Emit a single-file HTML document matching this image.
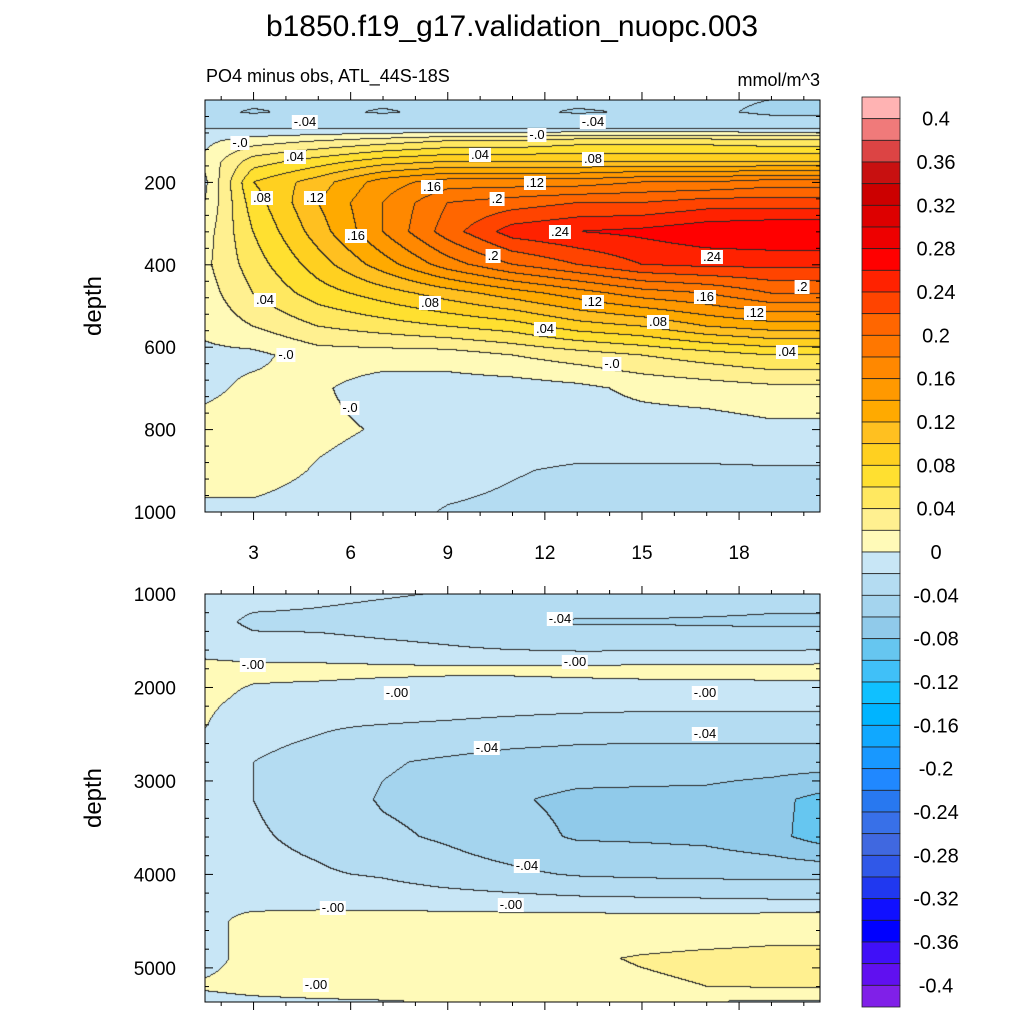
<!DOCTYPE html>
<html><head><meta charset="utf-8"><style>
body{margin:0;background:#fff;width:1024px;height:1024px;position:relative;overflow:hidden;font-family:"Liberation Sans",sans-serif}
canvas{position:absolute}
svg{position:absolute;left:0;top:0}
.lbl{position:absolute;background:#fff;font-size:13px;padding:0 2px;line-height:14px;transform:translate(-50%,-50%)}
</style></head><body>
<canvas id="c1" style="left:205px;top:100px" width="615" height="412"></canvas>
<canvas id="c2" style="left:205px;top:594px" width="615" height="408"></canvas>
<svg id="ov" width="1024" height="1024"></svg>
<div id="labels"></div>
<script>
const xCols=[1.5,3,5,7,9,11,13,15,17,19,20.5];
const topDepths=[0,30,70,100,150,200,250,320,400,470,550,620,700,800,900,1000];
const topVals=[
[-0.03,-0.035,-0.035,-0.035,-0.035,-0.035,-0.035,-0.035,-0.035,-0.04,-0.04],
[-0.035,-0.042,-0.035,-0.042,-0.035,-0.035,-0.042,-0.038,-0.035,-0.045,-0.045],
[-0.02,-0.02,-0.02,-0.02,-0.02,-0.02,-0.02,-0.02,-0.02,-0.02,-0.02],
[-0.005,0.01,0.02,0.03,0.04,0.04,0.05,0.05,0.05,0.045,0.045],
[0.005,0.05,0.07,0.09,0.1,0.1,0.1,0.1,0.1,0.1,0.1],
[-0.005,0.08,0.11,0.15,0.17,0.17,0.17,0.18,0.18,0.19,0.19],
[0.0,0.07,0.12,0.16,0.2,0.21,0.22,0.22,0.23,0.23,0.23],
[0.01,0.06,0.11,0.16,0.21,0.25,0.26,0.265,0.275,0.28,0.28],
[0.015,0.05,0.09,0.13,0.17,0.2,0.22,0.24,0.245,0.245,0.245],
[0.01,0.04,0.07,0.09,0.11,0.13,0.15,0.17,0.18,0.2,0.2],
[0.005,0.02,0.04,0.05,0.06,0.07,0.09,0.1,0.12,0.13,0.13],
[-0.005,-0.005,0.01,0.01,0.01,0.02,0.03,0.04,0.05,0.06,0.06],
[-0.005,0.005,0.003,-0.01,-0.01,-0.01,-0.005,0.005,0.01,0.015,0.015],
[0.008,0.01,0.005,-0.002,-0.01,-0.01,-0.01,-0.01,-0.01,-0.005,-0.005],
[0.01,0.01,-0.002,-0.01,-0.015,-0.019,-0.022,-0.022,-0.022,-0.022,-0.022],
[-0.005,-0.005,-0.01,-0.015,-0.021,-0.023,-0.025,-0.025,-0.025,-0.025,-0.025]];
const botDepths=[1000,1300,1600,1800,2100,2400,2800,3200,3600,4000,4300,4500,4900,5200,5365];
const botVals=[
[-0.01,-0.01,-0.015,-0.018,-0.021,-0.022,-0.022,-0.022,-0.025,-0.03,-0.03],
[-0.01,-0.025,-0.025,-0.028,-0.03,-0.038,-0.042,-0.042,-0.043,-0.044,-0.044],
[-0.005,-0.01,-0.012,-0.015,-0.018,-0.02,-0.022,-0.022,-0.022,-0.022,-0.02],
[0.005,0.005,0.005,0.004,0.003,0.003,0.004,0.005,0.005,0.006,0.006],
[0.005,-0.004,-0.006,-0.008,-0.008,-0.008,-0.008,-0.008,-0.008,-0.008,-0.008],
[0.001,-0.015,-0.018,-0.02,-0.022,-0.025,-0.028,-0.03,-0.03,-0.03,-0.03],
[-0.01,-0.02,-0.025,-0.038,-0.043,-0.048,-0.05,-0.05,-0.05,-0.05,-0.05],
[-0.015,-0.02,-0.028,-0.042,-0.047,-0.058,-0.064,-0.065,-0.066,-0.074,-0.086],
[-0.012,-0.018,-0.024,-0.036,-0.043,-0.053,-0.062,-0.063,-0.065,-0.074,-0.088],
[-0.01,-0.015,-0.018,-0.022,-0.03,-0.036,-0.042,-0.044,-0.045,-0.046,-0.046],
[-0.002,-0.005,-0.006,-0.008,-0.01,-0.012,-0.014,-0.015,-0.016,-0.017,-0.017],
[-0.005,0.005,0.008,0.01,0.01,0.01,0.01,0.01,0.01,0.012,0.012],
[-0.005,0.005,0.01,0.012,0.014,0.016,0.018,0.021,0.023,0.024,0.024],
[0.002,0.005,0.008,0.01,0.012,0.014,0.016,0.018,0.02,0.022,0.022],
[-0.005,-0.003,-0.002,-0.001,0.001,0.002,0.002,0.001,0.0,-0.002,-0.002]];
const posColors=["#fffab8","#fff090","#ffe860","#ffe030","#ffd020","#ffc020","#ffaa00","#ff9900","#ff8800","#ff7700","#ff6600","#ff4400","#ff2200","#ff0000","#ee0000","#dd0000","#cc0000","#c81010","#dc4444","#f07a7a","#ffb3b3"];
const negColors=["#c8e6f6","#b4dcf2","#a4d4ee","#90caea","#66c6f0","#40c0f8","#10c0ff","#00b4ff","#10a8ff","#1898ff","#2088ff","#2878f0","#3870e8","#4068e0","#3058e8","#2038f0","#1010ff","#0000ff","#4010f8","#6010f0","#8020e8"];
const cbLabels=["0.4","0.36","0.32","0.28","0.24","0.2","0.16","0.12","0.08","0.04","0","-0.04","-0.08","-0.12","-0.16","-0.2","-0.24","-0.28","-0.32","-0.36","-0.4"];
const xTicks=[3,6,9,12,15,18];
const topYTicks=[200,400,600,800,1000];
const botYTicks=[1000,2000,3000,4000,5000];

function hex(h){return [parseInt(h.substr(1,2),16),parseInt(h.substr(3,2),16),parseInt(h.substr(5,2),16)];}
const posRGB=posColors.map(hex),negRGB=negColors.map(hex);
function level(v){if(v>0)return Math.min(20,Math.ceil(v/0.02-1e-9)-1)+100;return -(Math.min(20,Math.ceil(-v/0.02-1e-9)-1))-1;}
function colorOf(l){return l>=100?posRGB[l-100]:negRGB[-l-1];}
function find(arr,v){for(let i=0;i<arr.length-1;i++){if(v<=arr[i+1])return i;}return arr.length-2;}
function interp(xs,ys,vals,x,y){
  const i=find(xs,x),j=find(ys,y);
  let tx=(x-xs[i])/(xs[i+1]-xs[i]),ty=(y-ys[j])/(ys[j+1]-ys[j]);
  tx=Math.max(0,Math.min(1,tx));ty=Math.max(0,Math.min(1,ty));
  const a=vals[j][i],b=vals[j][i+1],c=vals[j+1][i],d=vals[j+1][i+1];
  return a*(1-tx)*(1-ty)+b*tx*(1-ty)+c*(1-tx)*ty+d*tx*ty;
}
function xScale(x){return 205+(x-1.5)*615/19;}
function drawField(id,ys,vals,d0,d1){
  const cv=document.getElementById(id),ctx=cv.getContext('2d');
  const W=cv.width,H=cv.height,img=ctx.createImageData(W,H);
  const L=new Int16Array(W*H);
  for(let py=0;py<H;py++){const dep=d0+(py+0.5)/H*(d1-d0);
    for(let px=0;px<W;px++){const xv=1.5+(px+0.5)/W*19;L[py*W+px]=level(interp(xCols,ys,vals,xv,dep));}}
  for(let py=0;py<H;py++)for(let px=0;px<W;px++){
    const k=py*W+px,l=L[k];let c=colorOf(l);
    if((px<W-1&&L[k+1]!==l)||(py<H-1&&L[k+W]!==l))c=[40,40,40];
    img.data[k*4]=c[0];img.data[k*4+1]=c[1];img.data[k*4+2]=c[2];img.data[k*4+3]=255;}
  ctx.putImageData(img,0,0);
}
drawField('c1',topDepths,topVals,0,1000);
drawField('c2',botDepths,botVals,1000,5365);

const ov=document.getElementById('ov');const NS='http://www.w3.org/2000/svg';
function el(t,a,txt){const e=document.createElementNS(NS,t);for(const k in a)e.setAttribute(k,a[k]);if(txt!==undefined)e.textContent=txt;ov.appendChild(e);return e;}
function tyTop(d){return 100+d*412/1000;}
function tyBot(d){return 594+(d-1000)*408/4365;}
let f=el('rect',{x:205,y:100,width:615,height:412,fill:'none',stroke:'#000','stroke-width':1});

f=el('rect',{x:205,y:594,width:615,height:408,fill:'none',stroke:'#000','stroke-width':1});

for(let x=2;x<=20;x++){const px=xScale(x),maj=x%3===0;
  for(const [y0,dir] of [[512,1],[100,-1],[1002,1],[594,-1]]){
    const t=el('line',{x1:px,x2:px,y1:y0,y2:y0+dir*(maj?8:4),stroke:'#000'});
    }}
for(const x of xTicks){const t=el('text',{x:xScale(x),y:559,'font-size':19,'text-anchor':'middle'},String(x));
  }
for(let d=0;d<=1000;d+=40){const py=tyTop(d),maj=d%200===0&&d>0;
  for(const [x0,dir] of [[205,1],[820,-1]]){const t=el('line',{x1:x0,x2:x0+dir*(maj?8:4),y1:py,y2:py,stroke:'#000'});
    }}
for(const d of topYTicks){const t=el('text',{x:176,y:tyTop(d)+7,'font-size':19,'text-anchor':'end'},String(d));
  }
for(let d=1000;d<=5365;d+=200){const py=tyBot(d),maj=d%1000===0;
  for(const [x0,dir] of [[205,1],[820,-1]]){const t=el('line',{x1:x0,x2:x0+dir*(maj?8:4),y1:py,y2:py,stroke:'#000'});
    }}
for(const d of botYTicks){const t=el('text',{x:176,y:tyBot(d)+7,'font-size':19,'text-anchor':'end'},String(d));
  }
let a=el('text',{x:0,y:0,'font-size':24,'text-anchor':'middle',transform:'translate(101,306) rotate(-90)'},'depth');

a=el('text',{x:0,y:0,'font-size':24,'text-anchor':'middle',transform:'translate(101,798) rotate(-90)'},'depth');

a=el('text',{x:512,y:36,'font-size':30,'text-anchor':'middle'},'b1850.f19_g17.validation_nuopc.003');

a=el('text',{x:206,y:82,'font-size':18},'PO4 minus obs, ATL_44S-18S');

a=el('text',{x:820,y:86,'font-size':18,'text-anchor':'end'},'mmol/m^3');

const bh=910/42;
for(let i=0;i<42;i++){const c=i<21?posColors[20-i]:negColors[i-21];
  const r=el('rect',{x:862,y:97+i*bh,width:38,height:bh,fill:c,stroke:'#222','stroke-width':0.8});
  }
for(let i=0;i<cbLabels.length;i++){const t=el('text',{x:936,y:97+(i*2+1)*bh+7,'font-size':20,'text-anchor':'middle'},cbLabels[i]);
  }
const labs=[[305,122,'-.04'],[240,143,'-.0'],[537,135,'-.0'],[593,122,'-.04'],[295,157,'.04'],[480,155,'.04'],[593,159,'.08'],[262,198,'.08'],[315,198,'.12'],[432,187,'.16'],[497,199,'.2'],[535,183,'.12'],[356,236,'.16'],[560,232,'.24'],[493,256,'.2'],[712,257,'.24'],[265,300,'.04'],[430,303,'.08'],[593,302,'.12'],[705,297,'.16'],[802,287,'.2'],[755,313,'.12'],[658,322,'.08'],[545,329,'.04'],[787,352,'.04'],[286,355,'-.0'],[612,364,'-.0'],[350,408,'-.0'],
[560,619,'-.04'],[253,665,'-.00'],[575,662,'-.00'],[397,693,'-.00'],[705,693,'-.00'],[705,734,'-.04'],[487,748,'-.04'],[527,866,'-.04'],[333,908,'-.00'],[511,905,'-.00'],[316,985,'-.00']];
const ld=document.getElementById('labels');
for(const [x,y,t] of labs){const s=document.createElement('span');s.className='lbl';s.style.left=x+'px';s.style.top=y+'px';s.textContent=t;
  
  
  ld.appendChild(s);}
</script>
</body></html>
